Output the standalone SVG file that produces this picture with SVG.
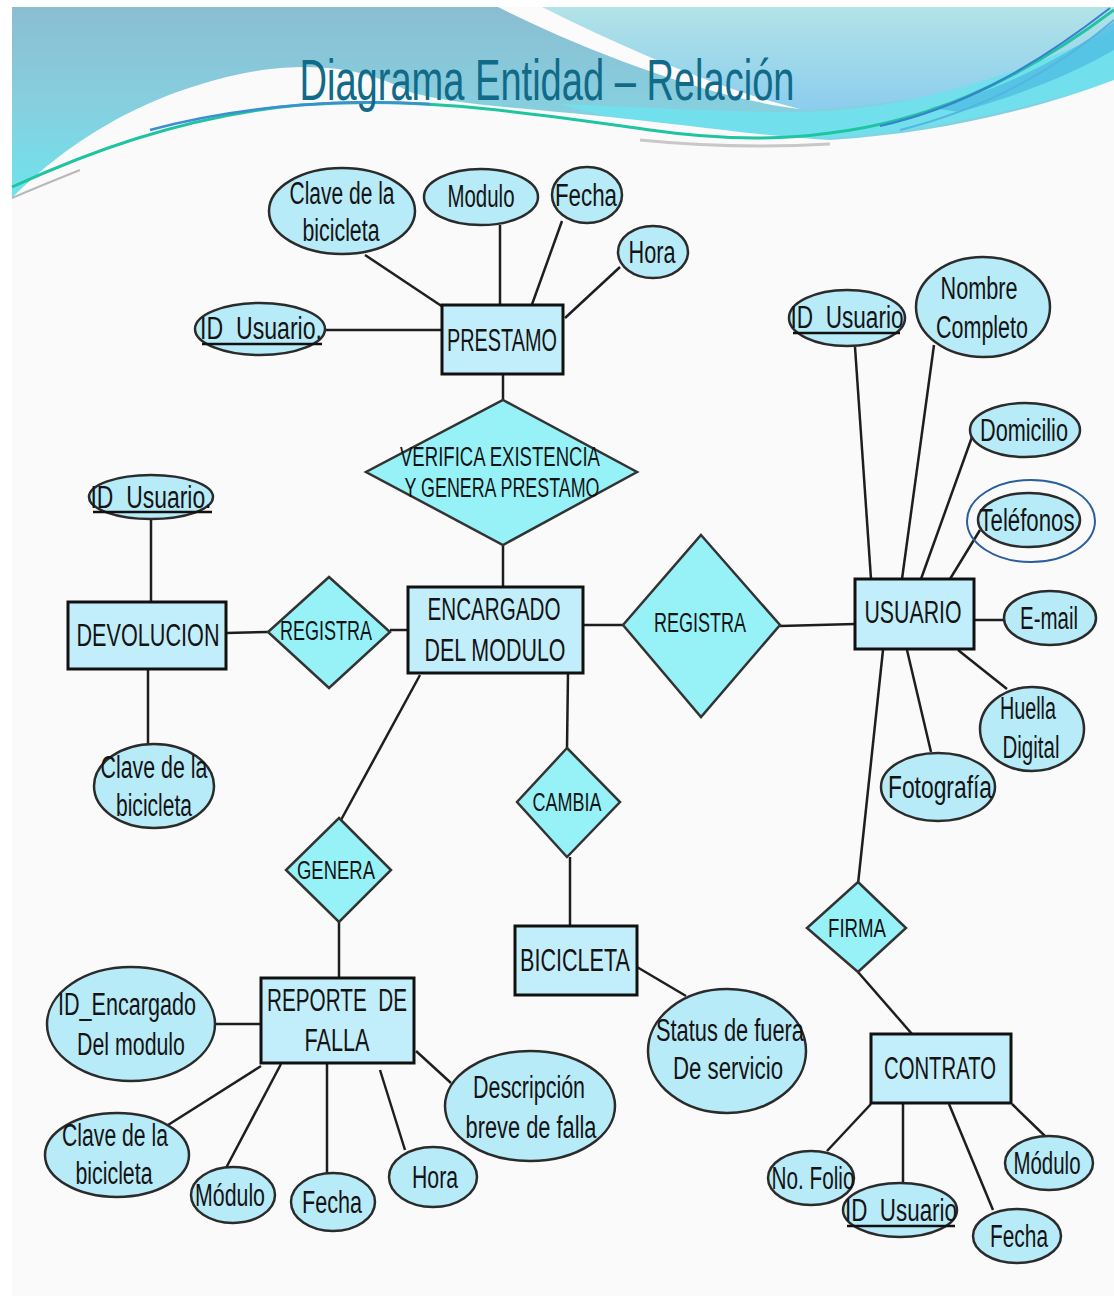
<svg xmlns="http://www.w3.org/2000/svg" width="1114" height="1296" viewBox="0 0 1114 1296">
  <defs>
    <linearGradient id="skyLeft" x1="0" y1="0" x2="0" y2="1">
      <stop offset="0" stop-color="#8bbdd1"/>
      <stop offset="0.5" stop-color="#86cfdf"/>
      <stop offset="1" stop-color="#6ce6ef"/>
    </linearGradient>
    <linearGradient id="skyRight" x1="0" y1="0" x2="0" y2="1">
      <stop offset="0" stop-color="#b2e3e7"/>
      <stop offset="1" stop-color="#8bcdee"/>
    </linearGradient>
    <style>
      .ent { fill: #c2eefb; stroke: #111; stroke-width: 3; }
      .att { fill: #b8ebf8; stroke: #2b2b2b; stroke-width: 2.5; }
      .rel { fill: #97f2f7; stroke: #333; stroke-width: 2.5; }
      .t { font-family: "Liberation Sans Narrow", "Liberation Sans", Arial, sans-serif; font-size: 31px; fill: #141414; text-anchor: middle; white-space: pre; }
      .r { font-size: 27px; }
      .s { font-size: 25px; }
      .ln { stroke: #1e1e1e; stroke-width: 2.5; fill: none; }
      .ul { stroke: #111; stroke-width: 2.5; }
    </style>
  </defs>

  <!-- slide background and header waves -->
  <rect x="0" y="0" width="1114" height="1296" fill="#ffffff"/>
  <rect x="12" y="7" width="1102" height="1289" fill="#fafafa"/>
  <rect x="12" y="7" width="1102" height="200" fill="url(#skyLeft)"/>
  <path d="M540,7 H1114 V40 C1050,72 950,102 800,110 C720,92 620,48 540,7 Z" fill="url(#skyRight)"/>
  <path d="M498,7 H542 C620,46 720,90 800,109 C720,100 600,58 498,7 Z" fill="#fbfbfb"/>
  <path d="M560,104 C650,108 730,112 800,112 C900,110 1000,82 1114,30 V82 C1000,116 900,136 800,139 C700,137 620,122 560,104 Z" fill="#72e0ec"/>
  <path d="M1114,22 C1060,60 1000,90 930,108 L960,112 C1030,92 1080,70 1114,50 Z" fill="#4fbde2" opacity="0.8"/>
  <path d="M12,198 C60,150 140,90 262,70 C320,62 370,70 410,92 C450,104 520,108 600,116 C680,124 760,136 830,140 C930,134 1030,112 1114,80 V1296 H12 Z" fill="#fafafa"/>
  <path d="M12,187 C80,156 180,116 300,105 C420,96 520,112 650,130 C720,140 780,140 830,133 C920,122 1010,88 1114,10" fill="none" stroke="#1fc4a0" stroke-width="3"/>
  <path d="M150,130 C230,108 330,98 430,104" fill="none" stroke="#3b8ed2" stroke-width="2.5"/>
  <path d="M880,126 C960,108 1030,70 1110,8" fill="none" stroke="#3a7fd0" stroke-width="2"/>
  <path d="M900,130 C980,110 1050,75 1114,20" fill="none" stroke="#56b5e0" stroke-width="2"/>
  <path d="M12,198 C40,186 60,178 80,170" fill="none" stroke="#b8b8b8" stroke-width="2"/>
  <path d="M640,140 C700,146 760,148 830,144" fill="none" stroke="#c8c8c8" stroke-width="3"/>

  <text x="547" y="100" font-family="Liberation Sans Narrow, Liberation Sans, Arial, sans-serif" font-size="57" fill="#116a88" text-anchor="middle" textLength="495" lengthAdjust="spacingAndGlyphs">Diagrama Entidad – Relación</text>

  <!-- connectors -->
  <g id="connectors">
    <line class="ln" x1="365" y1="255" x2="443" y2="307"/>
    <line class="ln" x1="500" y1="225" x2="500" y2="305" stroke-width="3"/>
    <line class="ln" x1="562" y1="221" x2="530" y2="310" stroke-width="2"/>
    <line class="ln" x1="620" y1="267" x2="565" y2="318" stroke-width="2"/>
    <line class="ln" x1="325" y1="330" x2="442" y2="330" stroke-width="3"/>
    <line class="ln" x1="503" y1="374" x2="503" y2="400"/>
    <line class="ln" x1="503" y1="545" x2="503" y2="587"/>
    <line class="ln" x1="151" y1="519" x2="151" y2="602"/>
    <line class="ln" x1="148" y1="669" x2="148" y2="745"/>
    <line class="ln" x1="226" y1="633" x2="268" y2="632" stroke-width="4"/>
    <line class="ln" x1="390" y1="630" x2="408" y2="630" stroke-width="3"/>
    <line class="ln" x1="583" y1="625" x2="623" y2="625" stroke="#6c6c6c" stroke-width="4"/>
    <line class="ln" x1="780" y1="626" x2="855" y2="624" stroke="#4a4a4a" stroke-width="4"/>
    <line class="ln" x1="568" y1="673" x2="567" y2="748"/>
    <line class="ln" x1="570" y1="857" x2="570" y2="926"/>
    <line class="ln" x1="420" y1="675" x2="341" y2="820" stroke="#555" stroke-width="2"/>
    <line class="ln" x1="339" y1="922" x2="339" y2="978"/>
    <line class="ln" x1="637" y1="967" x2="686" y2="996"/>
    <line class="ln" x1="855" y1="347" x2="871" y2="579"/>
    <line class="ln" x1="934" y1="345" x2="902" y2="579"/>
    <line class="ln" x1="972" y1="437" x2="921" y2="579" stroke-width="2"/>
    <line class="ln" x1="980" y1="530" x2="950" y2="579" stroke-width="2"/>
    <line class="ln" x1="974" y1="620" x2="1004" y2="620" stroke-width="3"/>
    <line class="ln" x1="958" y1="650" x2="1007" y2="689"/>
    <line class="ln" x1="907" y1="650" x2="931" y2="752"/>
    <line class="ln" x1="883" y1="650" x2="858" y2="884" stroke-width="2"/>
    <line class="ln" x1="858" y1="972" x2="912" y2="1034" stroke="#444" stroke-width="2"/>
    <line class="ln" x1="827" y1="1151" x2="871" y2="1104" stroke="#444" stroke-width="2"/>
    <line class="ln" x1="903" y1="1183" x2="903" y2="1104"/>
    <line class="ln" x1="993" y1="1210" x2="949" y2="1104" stroke="#444" stroke-width="2"/>
    <line class="ln" x1="1047" y1="1138" x2="1012" y2="1104"/>
    <line class="ln" x1="215" y1="1024" x2="261" y2="1024" stroke-width="3"/>
    <line class="ln" x1="168" y1="1125" x2="261" y2="1066"/>
    <line class="ln" x1="226" y1="1168" x2="281" y2="1064" stroke="#444" stroke-width="2"/>
    <line class="ln" x1="327" y1="1174" x2="327" y2="1063" stroke-width="3"/>
    <line class="ln" x1="405" y1="1150" x2="380" y2="1070" stroke="#444" stroke-width="2"/>
    <line class="ln" x1="451" y1="1083" x2="416" y2="1051" stroke="#444" stroke-width="2"/>
  </g>

  <!-- PRESTAMO and its attributes -->
  <g id="prestamo">
    <rect class="ent" x="442" y="305" width="121" height="69"/>
    <text class="t" x="502" y="351" textLength="110" lengthAdjust="spacingAndGlyphs">PRESTAMO</text>
  </g>
  <g id="prestamo-clave">
    <ellipse class="att" cx="342" cy="211" rx="73" ry="43"/>
    <text class="t" x="342" y="204" textLength="105" lengthAdjust="spacingAndGlyphs">Clave de la</text>
    <text class="t" x="341" y="241" textLength="77" lengthAdjust="spacingAndGlyphs">bicicleta</text>
  </g>
  <g id="prestamo-modulo">
    <ellipse class="att" cx="481" cy="197" rx="57" ry="28"/>
    <text class="t" x="481" y="207" textLength="67" lengthAdjust="spacingAndGlyphs">Modulo</text>
  </g>
  <g id="prestamo-fecha">
    <ellipse class="att" cx="587" cy="195" rx="35" ry="28"/>
    <text class="t" x="586" y="206" textLength="62" lengthAdjust="spacingAndGlyphs">Fecha</text>
  </g>
  <g id="prestamo-hora">
    <ellipse class="att" cx="653" cy="252" rx="35" ry="26"/>
    <text class="t" x="652" y="263" textLength="47" lengthAdjust="spacingAndGlyphs">Hora</text>
  </g>
  <g id="prestamo-idusuario">
    <ellipse class="att" cx="260" cy="329" rx="65" ry="26"/>
    <text class="t" x="261" y="339" textLength="122" lengthAdjust="spacingAndGlyphs">ID  Usuario.</text>
    <line class="ul" x1="202" y1="344" x2="322" y2="344"/>
  </g>

  <!-- relationship between PRESTAMO and ENCARGADO -->
  <g id="verifica">
    <polygon class="rel" points="503,400 637,472 503,545 366,472"/>
    <text class="t r" x="500" y="466" textLength="200" lengthAdjust="spacingAndGlyphs">VERIFICA EXISTENCIA</text>
    <text class="t r" x="502" y="497" textLength="195" lengthAdjust="spacingAndGlyphs">Y GENERA PRESTAMO</text>
  </g>

  <!-- ENCARGADO DEL MODULO -->
  <g id="encargado">
    <rect class="ent" x="408" y="587" width="175" height="86"/>
    <text class="t" x="494" y="620" textLength="133" lengthAdjust="spacingAndGlyphs">ENCARGADO</text>
    <text class="t" x="495" y="661" textLength="141" lengthAdjust="spacingAndGlyphs">DEL MODULO</text>
  </g>

  <!-- DEVOLUCION -->
  <g id="devolucion">
    <rect class="ent" x="68" y="602" width="158" height="67"/>
    <text class="t" x="148" y="646" textLength="143" lengthAdjust="spacingAndGlyphs">DEVOLUCION</text>
  </g>
  <g id="devolucion-idusuario">
    <ellipse class="att" cx="151" cy="497" rx="62" ry="22"/>
    <text class="t" x="151" y="508" textLength="121" lengthAdjust="spacingAndGlyphs">ID  Usuario.</text>
    <line class="ul" x1="93" y1="512" x2="212" y2="512"/>
  </g>
  <g id="devolucion-clave">
    <ellipse class="att" cx="154" cy="786" rx="60" ry="42"/>
    <text class="t" x="154" y="778" textLength="107" lengthAdjust="spacingAndGlyphs">Clave de la</text>
    <text class="t" x="154" y="816" textLength="76" lengthAdjust="spacingAndGlyphs">bicicleta</text>
  </g>
  <g id="registra-devolucion">
    <polygon class="rel" points="329,577 390,632 329,688 268,632"/>
    <text class="t r" x="326" y="640" textLength="92" lengthAdjust="spacingAndGlyphs">REGISTRA</text>
  </g>

  <!-- USUARIO and its attributes -->
  <g id="registra-usuario">
    <polygon class="rel" points="701,535 780,625 701,717 623,625"/>
    <text class="t r" x="700" y="632" textLength="92" lengthAdjust="spacingAndGlyphs">REGISTRA</text>
  </g>
  <g id="usuario">
    <rect class="ent" x="855" y="579" width="119" height="70"/>
    <text class="t" x="913" y="623" textLength="97" lengthAdjust="spacingAndGlyphs">USUARIO</text>
  </g>
  <g id="usuario-idusuario">
    <ellipse class="att" cx="847" cy="318" rx="58" ry="28"/>
    <text class="t" x="847" y="328" textLength="113" lengthAdjust="spacingAndGlyphs">ID  Usuario</text>
    <line class="ul" x1="793" y1="333" x2="900" y2="333"/>
  </g>
  <g id="usuario-nombre">
    <ellipse class="att" cx="983" cy="307" rx="67" ry="50"/>
    <text class="t" x="979" y="299" textLength="77" lengthAdjust="spacingAndGlyphs">Nombre</text>
    <text class="t" x="982" y="338" textLength="92" lengthAdjust="spacingAndGlyphs">Completo</text>
  </g>
  <g id="usuario-domicilio">
    <ellipse class="att" cx="1025" cy="430" rx="55" ry="27"/>
    <text class="t" x="1024" y="441" textLength="88" lengthAdjust="spacingAndGlyphs">Domicilio</text>
  </g>
  <g id="usuario-telefonos">
    <ellipse cx="1031" cy="521" rx="64" ry="41" fill="none" stroke="#2b5e9c" stroke-width="2"/>
    <ellipse class="att" cx="1029" cy="520" rx="51" ry="27"/>
    <text class="t" x="1027" y="531" textLength="95" lengthAdjust="spacingAndGlyphs">Teléfonos</text>
  </g>
  <g id="usuario-email">
    <ellipse class="att" cx="1050" cy="618" rx="46" ry="27"/>
    <text class="t" x="1049" y="629" textLength="58" lengthAdjust="spacingAndGlyphs">E-mail</text>
  </g>
  <g id="usuario-huella">
    <ellipse class="att" cx="1032" cy="729" rx="52" ry="42"/>
    <text class="t" x="1028" y="719" textLength="56" lengthAdjust="spacingAndGlyphs">Huella</text>
    <text class="t" x="1031" y="758" textLength="57" lengthAdjust="spacingAndGlyphs">Digital</text>
  </g>
  <g id="usuario-fotografia">
    <ellipse class="att" cx="938" cy="787" rx="57" ry="34"/>
    <text class="t" x="940" y="798" textLength="104" lengthAdjust="spacingAndGlyphs">Fotografía</text>
  </g>

  <!-- CONTRATO -->
  <g id="firma">
    <polygon class="rel" points="858,882 906,928 858,972 807,928"/>
    <text class="t s" x="857" y="937" textLength="58" lengthAdjust="spacingAndGlyphs">FIRMA</text>
  </g>
  <g id="contrato">
    <rect class="ent" x="871" y="1034" width="140" height="69"/>
    <text class="t" x="940" y="1079" textLength="112" lengthAdjust="spacingAndGlyphs">CONTRATO</text>
  </g>
  <g id="contrato-folio">
    <ellipse class="att" cx="811" cy="1178" rx="43" ry="27"/>
    <text class="t" x="813" y="1189" textLength="83" lengthAdjust="spacingAndGlyphs">No. Folio</text>
  </g>
  <g id="contrato-idusuario">
    <ellipse class="att" cx="900" cy="1210" rx="57" ry="27"/>
    <text class="t" x="901" y="1221" textLength="112" lengthAdjust="spacingAndGlyphs">ID  Usuario</text>
    <line class="ul" x1="847" y1="1226" x2="955" y2="1226"/>
  </g>
  <g id="contrato-fecha">
    <ellipse class="att" cx="1017" cy="1236" rx="44" ry="27"/>
    <text class="t" x="1019" y="1247" textLength="58" lengthAdjust="spacingAndGlyphs">Fecha</text>
  </g>
  <g id="contrato-modulo">
    <ellipse class="att" cx="1049" cy="1163" rx="44" ry="27"/>
    <text class="t" x="1047" y="1174" textLength="67" lengthAdjust="spacingAndGlyphs">Módulo</text>
  </g>

  <!-- BICICLETA -->
  <g id="cambia">
    <polygon class="rel" points="567,748 620,802 567,857 517,802"/>
    <text class="t s" x="567" y="811" textLength="69" lengthAdjust="spacingAndGlyphs">CAMBIA</text>
  </g>
  <g id="bicicleta">
    <rect class="ent" x="515" y="926" width="122" height="69"/>
    <text class="t" x="575" y="971" textLength="110" lengthAdjust="spacingAndGlyphs">BICICLETA</text>
  </g>
  <g id="bicicleta-status">
    <ellipse class="att" cx="727" cy="1051" rx="79" ry="62"/>
    <text class="t" x="730" y="1041" textLength="148" lengthAdjust="spacingAndGlyphs">Status de fuera</text>
    <text class="t" x="728" y="1079" textLength="110" lengthAdjust="spacingAndGlyphs">De servicio</text>
  </g>

  <!-- REPORTE DE FALLA -->
  <g id="genera">
    <polygon class="rel" points="339,818 391,870 339,922 286,870"/>
    <text class="t s" x="336" y="879" textLength="78" lengthAdjust="spacingAndGlyphs">GENERA</text>
  </g>
  <g id="reporte">
    <rect class="ent" x="261" y="978" width="153" height="85"/>
    <text class="t" x="337" y="1011" textLength="140" lengthAdjust="spacingAndGlyphs">REPORTE  DE</text>
    <text class="t" x="337" y="1051" textLength="65" lengthAdjust="spacingAndGlyphs">FALLA</text>
  </g>
  <g id="reporte-encargado">
    <ellipse class="att" cx="131" cy="1024" rx="84" ry="57"/>
    <text class="t" x="127" y="1015" textLength="138" lengthAdjust="spacingAndGlyphs">ID_Encargado</text>
    <text class="t" x="131" y="1055" textLength="108" lengthAdjust="spacingAndGlyphs">Del modulo</text>
  </g>
  <g id="reporte-clave">
    <ellipse class="att" cx="117" cy="1155" rx="72" ry="42"/>
    <text class="t" x="115" y="1146" textLength="106" lengthAdjust="spacingAndGlyphs">Clave de la</text>
    <text class="t" x="114" y="1184" textLength="77" lengthAdjust="spacingAndGlyphs">bicicleta</text>
  </g>
  <g id="reporte-modulo">
    <ellipse class="att" cx="233" cy="1195" rx="42" ry="28"/>
    <text class="t" x="230" y="1206" textLength="70" lengthAdjust="spacingAndGlyphs">Módulo</text>
  </g>
  <g id="reporte-fecha">
    <ellipse class="att" cx="333" cy="1202" rx="42" ry="29"/>
    <text class="t" x="332" y="1213" textLength="60" lengthAdjust="spacingAndGlyphs">Fecha</text>
  </g>
  <g id="reporte-hora">
    <ellipse class="att" cx="433" cy="1177" rx="44" ry="30"/>
    <text class="t" x="435" y="1188" textLength="46" lengthAdjust="spacingAndGlyphs">Hora</text>
  </g>
  <g id="reporte-descripcion">
    <ellipse class="att" cx="530" cy="1106" rx="85" ry="55"/>
    <text class="t" x="529" y="1098" textLength="112" lengthAdjust="spacingAndGlyphs">Descripción</text>
    <text class="t" x="531" y="1138" textLength="131" lengthAdjust="spacingAndGlyphs">breve de falla</text>
  </g>
</svg>
